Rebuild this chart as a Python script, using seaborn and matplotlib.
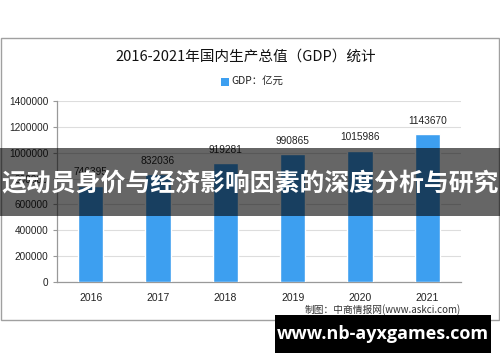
import matplotlib
matplotlib.use("Agg")
import matplotlib.pyplot as plt
import seaborn as sns
import pandas as pd
from matplotlib.patches import Rectangle

years = ["2016", "2017", "2018", "2019", "2020", "2021"]
gdp = [746395, 832036, 919281, 990865, 1015986, 1143670]
yticks = [0, 200000, 400000, 600000, 800000, 1000000, 1200000, 1400000]
title = "2016-2021年国内生产总值（GDP）统计"
legend_label = "GDP：亿元"
source = "制图：中商情报网(www.askci.com)"
banner = "运动员身价与经济影响因素的深度分析与研究"
site = "www.nb-ayxgames.com"

sns.set_style("white")
plt.rcParams['font.family'] = ['Liberation Sans', 'Noto Sans CJK SC', 'DejaVu Sans']

df = pd.DataFrame({"year": years, "gdp": gdp})

fig = plt.figure(figsize=(5, 3.62), dpi=100)
ax = fig.add_axes([57/500, 1-282/362, (461-57)/500, (282-101)/362])

bar_color = "#3d9ff0"
sns.barplot(data=df, x="year", y="gdp", color=bar_color, width=0.38,
            saturation=1, ax=ax, zorder=3)
ax.bar_label(ax.containers[0], labels=[str(v) for v in gdp], padding=6,
             fontsize=7.3, color="#222222")

ax.set_ylim(0, 1400000)
ax.set_xlim(-0.5, 5.5)
ax.set_yticks(yticks)
ax.set_yticklabels([str(v) for v in yticks], fontsize=7.2, color="#222222")
ax.set_xlabel("")
ax.set_ylabel("")
ax.tick_params(axis="x", length=0, labelsize=7.5, pad=8, labelcolor="#222222")
ax.set_xticks([i - 0.5 for i in range(7)], minor=True)
ax.tick_params(axis="x", which="minor", length=4, direction="out", color="#999999")
ax.tick_params(axis="y", length=3, direction="out", color="#999999", left=True, pad=3)
ax.grid(axis="y", color="#dddddd", linewidth=0.8, zorder=0)
ax.set_axisbelow(True)
for s in ["top", "right"]:
    ax.spines[s].set_visible(False)
for s in ["left", "bottom"]:
    ax.spines[s].set_color("#999999")
    ax.spines[s].set_linewidth(0.9)

# title and legend
fig.text(246/500, 1-57/362, title, ha="center", va="center", fontsize=10.5,
         family=['Noto Sans CJK SC', 'DejaVu Sans'], color="#111111")
fig.add_artist(Rectangle((221/500, 1-86/362), 8/500, 8/362, transform=fig.transFigure,
                         facecolor=bar_color, edgecolor="none"))
fig.text(231/500, 1-82/362, legend_label, ha="left", va="center", fontsize=7.5,
         family=['Noto Sans CJK SC', 'DejaVu Sans'], color="#222222")

# source note
fig.text(461/500, 1-310/362, source, ha="right", va="center", fontsize=7,
         family=['Noto Sans CJK SC', 'DejaVu Sans'], color="#333333")

# frame
fig.add_artist(Rectangle((0.5/500, 1-320/362), 498.5/500, 282/362, transform=fig.transFigure,
                         facecolor="none", edgecolor="#a0a0a0", linewidth=1, zorder=5))

# overlay banner
fig.add_artist(Rectangle((0, 1-216/362), 1, 68/362, transform=fig.transFigure,
                         facecolor="black", alpha=0.6, edgecolor="none", zorder=10))
fig.text(0.5, 1-183/362, banner, ha="center", va="center", fontsize=17.9,
         fontweight="bold", color="white", family=['Noto Sans CJK SC', 'DejaVu Sans'],
         zorder=11)

# bottom site box
fig.add_artist(Rectangle((275/500, 1-353/362), 216/500, 38/362, transform=fig.transFigure,
                         facecolor="black", edgecolor="none", zorder=10))
fig.text(383/500, 1-334/362, site, ha="center", va="center", fontsize=13,
         fontweight="bold", color="white", family=['Open Sans', 'DejaVu Sans'], zorder=11)

fig.savefig("out.png", dpi=100)
